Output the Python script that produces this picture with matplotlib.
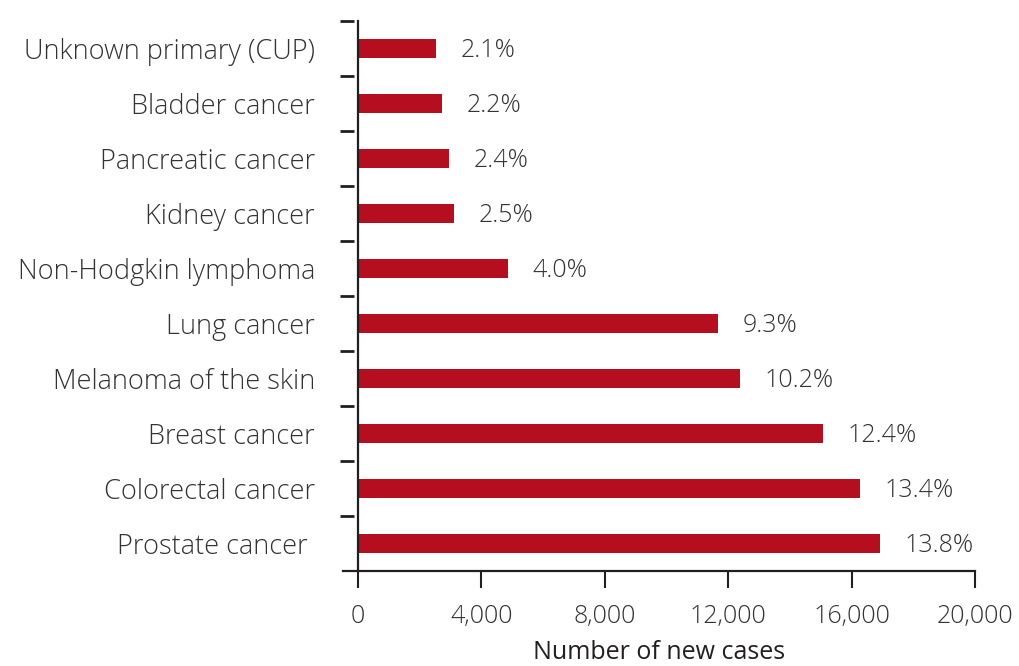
#!/usr/bin/env python3

import matplotlib
matplotlib.use("Agg")
import matplotlib.pyplot as plt
import matplotlib.transforms as mtransforms
from matplotlib.ticker import FuncFormatter

cancers = ["Prostate cancer ", "Colorectal cancer", "Breast cancer",
           "Melanoma of the skin", "Lung cancer", "Non-Hodgkin lymphoma",
           "Kidney cancer", "Pancreatic cancer", "Bladder cancer",
           "Unknown primary (CUP)"]
new_cases = [16920, 16270, 15070, 12380, 11670, 4860, 3110, 2950, 2720, 2530]
percents = ["13.8%", "13.4%", "12.4%", "10.2%", "9.3%", "4.0%", "2.5%",
            "2.4%", "2.2%", "2.1%"]
xticks = [0, 4000, 8000, 12000, 16000, 20000]

RED = "#b50e1f"
INK = "#231f20"
TXT = "#333333"

plt.rcParams['font.family'] = ['Open Sans', 'DejaVu Sans']
plt.rcParams['font.weight'] = 'light'

fig = plt.figure(figsize=(10.19, 6.66), dpi=100)
ax = fig.add_axes([0.3362, 0.1426, 0.9568 - 0.3362, 0.9685 - 0.1426])

ypos = list(range(len(cancers)))
ax.barh(ypos, new_cases, height=0.35, color=RED)

for y, v, p in zip(ypos, new_cases, percents):
    ax.text(v + 800, y - 0.03, p, va="center", ha="left", fontsize=18, color=TXT)

ax.set_xlim(-500, 20000)
ax.set_ylim(-0.5, len(cancers) - 0.5)

# spines
for s in ["top", "right"]:
    ax.spines[s].set_visible(False)
ax.spines["left"].set_position(("data", 0))
ax.spines["left"].set_color(INK)
ax.spines["left"].set_linewidth(1.6)
ax.spines["bottom"].set_color(INK)
ax.spines["bottom"].set_linewidth(1.6)

# x axis
ax.set_xticks(xticks)
ax.xaxis.set_major_formatter(FuncFormatter(lambda v, pos: f"{int(v):,}"))
ax.tick_params(axis="x", direction="out", length=12, width=1.5, color=INK,
               pad=12, labelsize=18, labelcolor=TXT)
ax.set_xlabel("Number of new cases", fontsize=18, fontweight="normal",
              color=INK, labelpad=8)

# y axis: labels at bar centres, no tick marks
ax.set_yticks(ypos)
ax.set_yticklabels(cancers)
ax.tick_params(axis="y", length=0, pad=31, labelsize=19.5, labelcolor=TXT)

# detached dashes at category boundaries
bounds = [i + 0.5 for i in ypos]
trans = mtransforms.blended_transform_factory(ax.transAxes, ax.transData)
ax.plot([0.007] * len(bounds), bounds, linestyle="none", marker="_",
        markersize=10, markeredgewidth=2, color=INK, transform=trans,
        clip_on=False)

fig.savefig("out.png", dpi=100)
